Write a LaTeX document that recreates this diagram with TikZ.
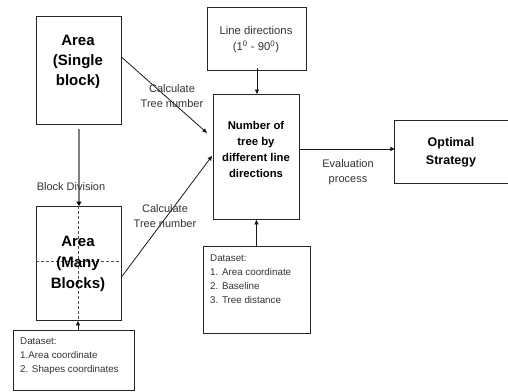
\documentclass[tikz,border=0pt]{standalone}
\usepackage{fontspec}
\setmainfont{Liberation Sans}
\usetikzlibrary{arrows.meta,calc}
\begin{document}
\begin{tikzpicture}[x=1pt,y=-1pt,
  box/.style={draw=black!85,line width=0.9pt,rectangle,inner sep=0pt,anchor=north west},
  lbl/.style={font=\fontsize{11}{14.5}\selectfont,align=center,text=black!80,inner sep=0pt},
  dstxt/.style={font=\fontsize{9.8}{13.8}\selectfont,align=left,text=black!80,inner sep=0pt,anchor=north west},
  arr/.style={draw=black!90,line width=0.8pt,-{Triangle[length=4.5pt,width=4pt]}},
  garr/.style={draw=black!50,line width=1.8pt,-{Triangle[length=4.5pt,width=5pt,color=black]}}]
\useasboundingbox (0,0) rectangle (508,391);
% boxes
\node[box,minimum width=85pt,minimum height=108pt] (single) at (36,16) {};
\node[font=\bfseries\fontsize{15}{20}\selectfont,align=center,inner sep=0pt] (singletxt) at (78,62) {Area\\(Single\\block)};
\node[box,minimum width=85pt,minimum height=114pt] (many) at (36,206) {};
\draw[black!70,dashed,line width=0.8pt,dash pattern=on 3pt off 2pt] (many.north) ++(-1,0) coordinate (vt) -- (vt |- many.south);
\draw[black!70,dashed,line width=0.8pt,dash pattern=on 3pt off 2pt] ($(many.west)+(0,-2)$) coordinate (hl) -- (hl -| many.east);
\node[font=\bfseries\fontsize{15}{21}\selectfont,align=center,inner sep=0pt] (manytxt) at (78,264) {Area\\(Many\\Blocks)};
\node[box,minimum width=121pt,minimum height=60pt] (dsl) at (13,330) {};
\node[dstxt] (dsltxt) at (20,338) {Dataset:\\1.Area coordinate\\2. Shapes coordinates};
\node[box,minimum width=99pt,minimum height=63pt] (linedir) at (207,7) {};
\node[lbl,font=\fontsize{11.3}{16}\selectfont] (linedirtxt) at (256,40) {Line directions\\(1\textsuperscript{0} - 90\textsuperscript{0})};
\node[box,minimum width=86pt,minimum height=125pt] (num) at (213,94) {};
\node[font=\bfseries\fontsize{11.3}{16}\selectfont,align=center,inner sep=0pt] (numtxt) at (256,149) {Number of\\tree by\\different line\\directions};
\node[box,minimum width=107pt,minimum height=87pt] (dsm) at (203,246) {};
\node[dstxt] (dsmtxt) at (210,255) {Dataset:\\1. Area coordinate\\2. Baseline\\3. Tree distance};
\node[box,minimum width=114pt,minimum height=63pt] (opt) at (394,120) {};
\node[font=\bfseries\fontsize{12.5}{18}\selectfont,align=center,inner sep=0pt] (opttxt) at (451,152) {Optimal\\Strategy};
% connectors
\draw[garr] ($(single.south)+(0,4)$) -- (single.south |- many.north);
\draw[arr] (dsl.north -| vt) -- (vt |- many.south);
\draw[arr] ($(single.east)+(0,-13)$) -- ($(num.west)+(-6,-24)$);
\draw[arr] ($(many.east)+(0,13)$) -- ($(num.west)+(-1,-1)$);
\draw[arr] ($(linedir.south)+(0,-3)$) -- (linedir.south |- num.north);
\draw[arr] (dsm.north -| num.south) -- (num.south);
\draw[arr] ($(num.east)+(0,-8)$) -- ($(num.east)+(95,-8)$) coordinate (optin);
% labels
\node[lbl] (calc1) at (172,96) {Calculate\\Tree number};
\node[lbl] (calc2) at (165,216) {Calculate\\Tree number};
\node[lbl] (blockdiv) at (71,187) {Block Division};
\node[lbl] (eval) at (348,172) {Evaluation\\process};
\end{tikzpicture}
\end{document}
